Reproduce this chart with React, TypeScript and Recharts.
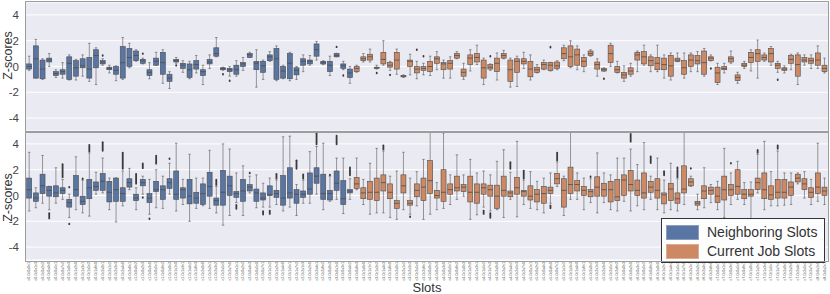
import React from 'react';
import { ComposedChart, Bar, XAxis, YAxis, CartesianGrid, Legend } from 'recharts';

type Box = [number, number, number, number, number]; // [whiskerLow, q1, median, q3, whiskerHigh]
type Outlier = [number, number, number]; // [slotIndex, low, high]

const BLUE = '#5875A4';
const ORANGE = '#CC8963';
const EDGE = '#4c4c4c';
const BG = '#EAEAF2';
const FONT = '"Liberation Sans", Arial, sans-serif';

const yTicks = [-4, -2, 0, 2, 4];
const legendItems = [
  { label: 'Neighboring Slots', color: BLUE },
  { label: 'Current Job Slots', color: ORANGE },
];

const slotLabels = [
  'c0-0c0s0n1','c0-0c0s1n3','c0-0c0s2n2','c0-0c0s4n0','c0-0c0s5n1','c0-0c0s7n2','c0-0c1s0n3','c0-0c1s2n0','c0-0c1s3n1','c0-0c1s5n2',
  'c0-0c1s6n0','c0-0c2s0n1','c0-0c2s1n2','c0-0c2s3n3','c0-0c2s4n0','c0-0c2s6n1','c1-0c0s0n2','c1-0c0s2n3','c1-0c0s3n0','c1-0c0s5n1',
  'c1-0c0s6n2','c1-0c1s0n3','c1-0c1s1n0','c1-0c1s3n1','c1-0c1s4n2','c1-0c1s6n3','c1-0c2s0n0','c1-0c2s2n1','c1-0c2s3n2','c1-0c2s5n3',
  'c1-0c2s7n0','c2-0c0s1n1','c2-0c0s2n2','c2-0c0s4n3','c2-0c0s5n0','c2-0c0s7n1','c2-0c1s1n2','c2-0c1s2n3','c2-0c1s4n0','c2-0c1s5n1',
  'c2-0c1s7n2','c2-0c2s1n3','c2-0c2s2n0','c2-0c2s4n1','c2-0c2s6n2','c3-0c0s0n3','c3-0c0s1n0','c3-0c0s3n1','c3-0c0s4n2','c3-0c0s6n3',
  'c3-0c1s0n0','c3-0c1s1n1','c3-0c1s3n2','c3-0c1s4n3','c3-0c1s6n0','c3-0c2s0n1','c3-0c2s1n2','c3-0c2s3n3','c3-0c2s5n0','c3-0c2s6n1',
  'c4-0c0s0n2','c4-0c0s2n3','c4-0c0s3n0','c4-0c0s5n1','c4-0c0s6n2','c4-0c1s0n3','c4-0c1s2n0','c4-0c1s3n1','c4-0c1s5n2','c4-0c1s7n3',
  'c4-0c2s0n0','c4-0c2s2n1','c4-0c2s4n2','c4-0c2s5n3','c4-0c2s7n0','c5-0c0s1n1','c5-0c0s2n2','c5-0c0s4n3','c5-0c0s6n0','c5-0c0s7n1',
  'c5-0c1s1n2','c5-0c1s3n3','c5-0c1s4n0','c5-0c1s6n1','c5-0c2s0n2','c5-0c2s1n3','c5-0c2s3n0','c5-0c2s5n1','c5-0c2s6n2','c6-0c0s0n3',
  'c6-0c0s2n0','c6-0c0s3n1','c6-0c0s5n2','c6-0c0s6n3','c6-0c1s0n0','c6-0c1s2n1','c6-0c1s4n2','c6-0c1s5n3','c6-0c1s7n0','c6-0c2s1n1',
  'c6-0c2s2n2','c6-0c2s4n3','c6-0c2s6n0','c7-0c0s0n1','c7-0c0s1n2','c7-0c0s3n3','c7-0c0s5n0','c7-0c0s6n1','c7-0c1s0n2','c7-0c1s2n3',
  'c7-0c1s3n0','c7-0c1s5n1','c7-0c1s7n2','c7-0c2s0n3','c7-0c2s2n0','c7-0c2s4n1','c7-0c2s5n2','c7-0c2s7n3','c8-0c0s1n0','c8-0c0s2n1',
];

// ---------- Top panel ----------
const topNeighbor: Box[] = [
  [-0.3,-0.2,0,0.2,0.8],[-0.9,-0.9,0.6,1.6,2.1],[-1.0,-0.95,-0.2,0.5,0.6],[0,0.35,0.5,0.65,1.0],
  [-0.85,-0.7,-0.55,-0.4,-0.25],[-0.9,-0.6,-0.4,-0.25,0.3],[-1.05,-1.0,0.25,0.75,0.9],[-1.05,-0.75,-0.1,0.45,0.55],
  [-0.75,-0.1,0.05,0.6,0.9],[-1.15,-0.9,-0.2,0.7,1.8],[-1.4,-0.1,0.85,1.3,1.45],[0.1,0.2,0.35,0.45,0.6],
  [-0.5,-0.25,-0.15,-0.05,0.1],[-1.1,-0.6,-0.3,0,0.05],[-1.0,-0.9,0.3,1.55,2.25],[-0.1,0,0.7,1.4,1.8],
  [0.4,0.45,0.85,1.2,1.3],[0.2,0.25,0.45,0.55,0.65],[-0.95,-0.7,-0.45,-0.25,0.3],[0.1,0.1,0.4,0.65,1.1],
  [-1.3,-0.6,0.3,1.1,1.3],[-1.7,-1.15,-0.9,-0.6,-0.4],[0.25,0.35,0.45,0.55,0.7],[-0.45,-0.15,0.1,0.25,0.45],
  [-0.95,-0.85,-0.25,0.2,0.4],[-0.5,-0.2,0.15,0.45,0.85],[-1.4,-0.7,-0.4,-0.25,0.1],[-0.15,0.2,0.35,0.55,0.9],
  [0.75,0.8,1.0,1.45,2.25],[-0.3,-0.25,-0.15,-0.1,-0.05],[-0.75,-0.4,-0.25,-0.15,0],[-0.75,-0.6,-0.25,0.1,0.45],
  [-0.3,0,0.2,0.3,0.7],[0.7,0.7,0.9,1.0,1.1],[-1.6,-0.25,0.25,0.4,1.3],[-1.0,-0.45,0.05,0.4,0.5],
  [0.4,0.45,0.75,0.9,1.15],[-1.1,-1.0,0.6,1.4,1.6],[-0.95,-0.9,-0.35,0,0.1],[-1.1,-0.95,0.25,1.0,1.1],
  [-1.0,-0.65,-0.3,-0.1,0],[-0.4,0.1,0.4,0.6,0.9],[0.1,0.2,0.4,0.5,0.85],[0.5,0.8,1.3,1.75,1.95],
  [0.15,0.2,0.3,0.4,0.45],[-0.7,-0.4,0.1,0.4,0.8],[0.75,0.75,0.85,1.0,1.02],[-0.25,-0.15,0.05,0.2,0.4],
  [-1.3,-0.85,-0.5,-0.2,0],
];
const topCurrent: Box[] = [
  [-0.45,-0.4,-0.15,0,0.1],[0.35,0.45,0.6,0.75,1.0],[0.35,0.5,0.75,0.95,1.35],[-0.2,-0.15,-0.1,-0.05,0.1],
  [0.1,0.2,0.55,1.1,2.0],[-0.3,-0.05,0.1,0.3,0.4],[-0.6,-0.2,0.5,1.1,1.35],[-0.85,-0.8,-0.75,-0.7,-0.65],
  [-0.65,0,0.4,0.5,0.95],[-0.95,-0.5,-0.2,0,0.4],[-0.65,-0.3,-0.15,0,0.25],[-0.7,-0.4,0,0.4,0.8],
  [-0.25,0.25,0.6,0.75,1.15],[-0.9,-0.25,0.2,0.3,0.5],[-0.9,-0.2,0.25,0.45,0.75],[0.6,0.65,0.85,1.0,1.15],
  [-1.0,-0.75,-0.45,-0.2,0.25],[-0.35,0.15,0.65,0.9,1.3],[0.15,0.35,0.7,1.0,1.65],[-1.4,-0.9,-0.1,0.5,0.65],
  [-0.3,-0.2,-0.05,0.15,0.2],[-1.05,-0.4,0.25,0.65,1.05],[0.6,0.65,0.85,1.0,1.25],[-1.6,-1.15,-0.25,0.5,0.65],
  [-1.55,-0.45,0.4,0.6,0.8],[-0.15,0.2,0.4,0.6,1.1],[-1.05,-0.8,-0.2,0.4,0.9],[-0.5,-0.45,-0.25,-0.05,0.15],
  [-0.25,-0.2,0.15,0.3,0.5],[-0.35,-0.3,0.1,0.3,0.32],[-0.25,-0.15,0.05,0.35,0.45],[0.45,0.6,1.0,1.45,1.65],
  [-0.1,0,0.75,1.6,2.0],[-0.25,0.1,0.9,1.35,1.6],[-0.4,0,0.4,0.7,0.9],[0.8,0.85,1.0,1.2,1.3],
  [-0.75,-0.2,0.15,0.35,0.6],[-0.37,-0.35,-0.25,-0.15,-0.1],[0,0.3,1.0,1.65,1.8],[-0.5,-0.45,-0.25,0,0.4],
  [-1.15,-0.9,-0.65,-0.45,0.05],[-0.75,-0.6,-0.35,-0.1,0.25],[-0.4,0.5,0.9,1.1,1.2],[0.1,0.2,0.75,1.15,1.65],
  [-0.4,0.05,0.45,0.75,0.9],[-0.4,-0.25,0.25,0.7,1.65],[-0.9,-0.25,0.15,0.65,0.9],[-1.05,-0.75,0.05,0.85,1.05],
  [0.38,0.4,0.5,0.65,1.05],[-0.9,-0.6,-0.1,0.45,1.05],[-0.4,0,0.5,0.9,1.05],[-0.4,0.2,0.45,0.85,1.15],
  [-0.75,-0.6,0.3,1.2,1.4],[0.43,0.45,0.65,0.75,0.9],[-1.4,-1.25,-0.5,-0.05,0.25],[-0.5,-0.25,-0.15,0,0.25],
  [0.25,0.35,0.6,0.75,1.2],[-1.3,-1.1,-0.85,-0.65,-0.45],[-0.15,0,0.1,0.25,0.4],[-0.35,0.3,0.7,1.1,1.3],
  [-0.9,0.4,1.0,1.3,2.05],[0.4,0.5,0.7,0.9,1.05],[0.1,0.35,1.0,1.4,1.55],[-0.45,-0.15,0.1,0.25,0.4],
  [-0.5,-0.3,-0.2,-0.1,0.05],[-0.25,0.25,0.55,0.85,0.95],[-1.4,-0.75,0.15,0.9,1.05],[0.1,0.35,0.5,0.7,0.9],
  [-0.15,0.25,0.45,0.65,0.9],[-0.15,0.1,0.5,1.05,1.6],[-0.5,-0.4,-0.15,0.1,0.65],
];
const topOutliers: Outlier[] = [
  [11,0.8,0.9],[17,0.95,1.05],[22,0.05,0.12],[29,-0.65,-0.55],[30,-1.15,-1.05],[46,1.45,1.6],[47,-0.75,-0.65],
  [52,-0.55,-0.45],[54,-0.7,-0.6],[58,1.2,1.4],[59,0.75,0.85],[69,0.75,0.85],[78,1.4,1.6],[86,-1.0,-0.9],
  [102,-0.2,-0.12],[112,-1.1,-0.95],
];

// ---------- Bottom panel ----------
const botNeighbor: Box[] = [
  [-1.2,-0.2,0.45,1.35,3.35],[-0.95,-0.45,-0.2,0.2,0.6],[-0.6,0.15,0.75,1.65,3.1],[-1.1,-0.05,0.4,0.7,0.72],
  [-0.6,-0.1,0.2,0.75,2.15],[-0.3,0.15,0.4,0.6,1.25],[-1.7,-0.9,-0.55,-0.3,0.1],[-1.1,-0.05,0.45,1.55,3.0],
  [-1.35,-0.7,-0.45,-0.05,1.2],[-1.6,-0.25,0.6,1.25,3.3],[0.1,0.4,0.7,1.05,1.8],[0.2,0.4,1.1,1.7,2.9],
  [-1.1,-0.5,0.25,1.1,1.35],[-2.05,-0.45,0.45,1.35,1.37],[-0.8,-0.45,0.15,0.6,1.9],[0.45,0.65,1.0,1.3,2.1],
  [-1.1,-0.4,-0.2,0.1,0.6],[0.1,0.75,1.0,1.25,1.5],[-1.45,-0.55,-0.2,0.15,1.25],[-0.95,0.3,0.45,1.1,2.0],
  [-1.0,-0.3,0.45,0.75,1.5],[0.1,0.55,1.0,1.3,2.5],[-1.2,-0.3,0.1,1.9,4.05],[-0.7,-0.2,0.45,0.6,1.25],
  [-2.0,-0.65,-0.05,1.25,3.2],[-1.0,-0.6,-0.2,0.25,1.35],[-0.8,-0.7,0.15,0.9,1.35],[-1.0,-0.05,0.7,1.8,3.5],
  [-1.35,-0.75,-0.4,-0.2,0.7],[-2.3,-0.75,0.25,1.95,4.0],[-1.55,0,0.75,1.5,3.6],[-0.55,-0.15,0.15,0.3,1.75],
  [-1.55,-0.45,0.35,1.25,2.3],[0.2,0.35,0.65,0.85,1.5],[-0.95,-0.45,0.2,0.5,1.6],[-0.9,-0.35,-0.2,0.2,0.95],
  [-0.9,0,0.05,0.75,1.35],[-0.7,-0.15,0.15,0.4,1.2],[-1.2,-0.75,-0.2,1.55,4.55],[-0.9,-0.2,0.2,2.15,4.6],
  [-1.55,-0.6,0.1,0.45,0.85],[-0.6,-0.15,0.1,0.35,1.2],[-0.6,0.1,0.5,1.75,3.4],[0.1,0.95,1.5,2.15,3.8],
  [-1.1,-0.3,0.15,1.65,4.05],[-0.45,-0.35,0.15,0.4,1.5],[-0.3,0.4,0.95,1.9,2.9],[-1.4,-0.7,-0.25,1.15,2.9],
  [-0.3,0.2,0.35,0.45,1.3],
];
const botCurrent: Box[] = [
  [0.45,0.55,0.9,1.4,2.9],[-0.7,-0.25,0.2,0.6,1.25],[-1.45,-0.3,0.25,1.1,2.5],[-1.35,-0.4,0.25,1.35,3.65],
  [-1.35,0.35,1.0,1.6,3.45],[-1.7,-0.25,0.25,0.9,1.5],[-1.85,-1.0,-0.6,-0.4,1.9],[-1.1,0.2,0.75,1.6,3.35],
  [-1.45,-0.75,-0.6,-0.4,1.35],[-0.8,-0.1,0.4,0.9,1.85],[-1.85,-0.4,0.65,1.35,2.8],[-1.45,0.15,1.15,2.7,5.5],
  [-1.1,-0.2,0,0.4,1.0],[-1.0,-0.45,0.25,2.0,4.85],[-0.7,0.1,0.45,0.9,1.6],[-0.3,0.35,0.6,1.5,3.15],
  [-0.05,0.3,0.65,0.85,1.6],[-1.85,-0.5,0.25,1.5,2.8],[-1.5,-0.6,0.25,0.9,1.75],[-0.9,0.1,0.6,0.9,1.9],
  [-1.2,-0.05,0.45,0.8,1.6],[-1.1,-1.0,-0.05,0.8,2.65],[-1.7,-0.05,0.4,1.5,3.55],[-0.3,-0.1,0.2,0.35,1.8],
  [-1.65,0.1,0.6,1.4,4.2],[-0.7,-0.05,0.3,0.4,1.2],[-1.0,-0.35,-0.05,0.75,1.85],[-1.1,-0.5,0.1,0.45,1.1],
  [-1.35,-0.6,0.15,0.7,1.35],[-0.6,0.15,0.4,0.65,1.75],[0.7,0.9,1.3,1.7,2.6],[-1.55,-0.9,0.4,1.3,1.5],
  [-0.3,0.15,0.85,2.2,5.5],[-0.3,0.35,0.85,1.15,1.75],[-1.1,0,0.4,0.7,1.35],[-0.55,-0.1,0.3,0.45,1.3],
  [-1.35,-0.05,0.65,1.45,3.3],[-0.55,-0.05,0.45,0.95,1.75],[-1.1,-0.5,0.45,1.1,1.6],[-1.2,-0.4,-0.1,1.25,2.9],
  [-0.45,0,1.2,1.6,2.9],[-1.2,0.35,0.85,1.95,3.6],[-0.8,0,0.4,1.2,2.4],[-1.1,-0.2,0.2,1.75,4.1],
  [-0.3,0.25,0.65,1.1,1.5],[-1.1,-0.2,0.4,1.3,2.9],[-1.35,-0.65,0.05,0.2,1.2],[-1.1,-0.4,0.5,0.95,2.5],
  [-1.2,-0.6,-0.25,0.2,1.3],[-0.7,0.2,0.5,2.3,5.5],[0.7,0.75,1.05,1.3,1.5],[-1.1,-0.75,-0.6,-0.45,0.1],
  [-0.95,-0.25,0.35,0.75,2.15],[-0.55,0.1,0.4,0.65,0.85],[-1.1,-0.55,-0.05,0.65,1.1],[-1.7,-0.35,0.45,1.5,3.65],
  [-0.7,0,0.45,0.85,1.75],[-0.3,0.1,0.7,2.0,2.65],[-0.7,-0.25,0.1,0.45,1.0],[-1.85,-0.05,0.1,0.45,1.05],
  [0.2,0.45,1.0,1.35,3.2],[-1.1,-0.25,0.45,1.75,4.2],[-0.8,-0.3,0.05,0.75,1.85],[-0.8,-0.2,0.25,1.25,3.45],
  [-0.75,-0.2,0.25,1.25,1.75],[-0.7,0,0.65,1.05,1.75],[0.9,1.05,1.35,1.65,1.75],[-0.2,0.45,0.9,1.3,1.85],
  [-0.7,-0.15,0.25,0.6,1.25],[-0.45,0.15,0.65,1.75,4.05],[-0.7,0,0.35,0.65,1.35],
];
const botOutliers: Outlier[] = [
  [3,-1.85,-1.3],[5,1.35,2.5],[6,0.6,0.7],[6,-2.25,-2.15],[8,1.25,1.35],[9,3.35,4.0],[11,3.4,4.2],[14,2.0,3.4],
  [16,0.85,1.75],[17,2.05,2.55],[17,-0.2,-0.1],[18,-1.85,-1.75],[19,2.4,3.15],[21,2.8,2.9],[28,0.75,1.3],
  [31,-1.1,-0.65],[33,1.7,1.8],[35,-1.55,-1.15],[36,-1.5,-1.1],[37,1.25,1.75],[40,2.0,2.8],[41,1.25,1.7],
  [43,3.9,4.9],[45,1.55,1.65],[46,3.9,4.7],[48,1.5,2.25],
  [53,3.5,3.95],[57,-1.7,-1.6],[68,-1.5,-1.1],[69,-1.8,-1.3],[72,2.0,2.65],[74,1.25,2.0],[78,-1.05,-0.7],
  [79,2.65,3.4],[84,1.4,1.5],[90,4.1,4.85],[93,2.45,3.1],[95,1.5,1.95],[97,1.35,2.25],[99,2.05,2.15],
  [105,2.45,2.55],[109,3.25,3.6],[112,3.55,3.95],
];

function buildRows(neigh: Box[], curr: Box[], outs: Outlier[]) {
  const all = [
    ...neigh.map((b) => ({ b, group: 'n' })),
    ...curr.map((b) => ({ b, group: 'c' })),
  ];
  return all.map((e, i) => {
    const o = outs.filter((r) => r[0] === i);
    return {
      name: slotLabels[i],
      group: e.group,
      whisk: [e.b[0], e.b[4]],
      box: [e.b[1], e.b[3]],
      med: e.b[2],
      outA: o[0] ? [o[0][1], o[0][2]] : null,
      outB: o[1] ? [o[1][1], o[1][2]] : null,
    };
  });
}

const topRows = buildRows(topNeighbor, topCurrent, topOutliers);
const botRows = buildRows(botNeighbor, botCurrent, botOutliers);

const ok = (...v: any[]) => v.every((n) => typeof n === 'number' && Number.isFinite(n));

const WhiskerShape = (p: any) => {
  const { x, y, width, height } = p;
  if (!ok(x, y, width, height)) return <g />;
  const cx = x + width / 2;
  const cap = width * 0.25;
  return (
    <g>
      <line x1={cx} x2={cx} y1={y} y2={y + height} stroke={EDGE} strokeWidth={0.55} />
      <line x1={cx - cap} x2={cx + cap} y1={y} y2={y} stroke={EDGE} strokeWidth={0.55} />
      <line x1={cx - cap} x2={cx + cap} y1={y + height} y2={y + height} stroke={EDGE} strokeWidth={0.55} />
    </g>
  );
};

const BoxShape = (p: any) => {
  const { x, y, width, height, payload } = p;
  if (!ok(x, y, width, height) || !payload) return <g />;
  const [q1, q3] = payload.box;
  const span = q3 - q1;
  const my = span > 0 ? y + (height * (q3 - payload.med)) / span : y;
  const fill = payload.group === 'n' ? BLUE : ORANGE;
  return (
    <g>
      <rect x={x} y={y} width={width} height={Math.max(height, 0.8)} fill={fill} stroke={EDGE} strokeWidth={0.6} />
      <line x1={x} x2={x + width} y1={my} y2={my} stroke={EDGE} strokeWidth={0.8} />
    </g>
  );
};

const OutlierShape = (p: any) => {
  const { x, y, width, height } = p;
  if (!ok(x, y, width, height)) return <g />;
  const h = Math.max(Math.abs(height), 2.4);
  const cy = y + height / 2;
  return <rect x={x + width / 2 - 0.9} y={cy - h / 2} width={1.8} height={h} rx={0.9} fill="#3a3a3a" />;
};

const SlotTick = (p: any) => {
  const { x, y, payload } = p;
  return (
    <text
      x={0}
      y={0}
      transform={`translate(${x},${y}) rotate(-90)`}
      textAnchor="end"
      dominantBaseline="central"
      fontSize={3.6}
      fill="#444"
      fontFamily={FONT}
    >
      {payload.value}
    </text>
  );
};

const ZLabel = (p: any) => {
  const vb = p.viewBox || {};
  const cx = 8;
  const cy = (vb.y ?? 0) + (vb.height ?? 0) / 2 + (p.shift || 0);
  return (
    <text
      x={cx}
      y={cy}
      transform={`rotate(-90 ${cx} ${cy})`}
      textAnchor="middle"
      dominantBaseline="central"
      fontSize={12.5}
      fill="#333"
      fontFamily={FONT}
    >
      Z-scores
    </text>
  );
};

const LegendBox = () => (
  <div
    style={{
      boxSizing: 'border-box',
      width: 164,
      height: 45,
      border: '1.3px solid #333',
      background: 'rgba(255,255,255,0.88)',
      fontFamily: FONT,
      position: 'relative',
    }}
  >
    {legendItems.map((it, i) => (
      <div
        key={it.label}
        style={{ position: 'absolute', left: 4, top: 5 + i * 19, display: 'flex', alignItems: 'center', height: 16 }}
      >
        <div style={{ width: 33, height: 15, background: it.color, boxSizing: 'border-box', border: '1px solid rgba(255,255,255,0.3)' }} />
        <span style={{ marginLeft: 8, fontSize: 14, color: '#333', lineHeight: '16px', whiteSpace: 'nowrap' }}>{it.label}</span>
      </div>
    ))}
  </div>
);

function Panel({ rows, height, showX, labelShift }: { rows: any[]; height: number; showX: boolean; labelShift: number }) {
  return (
    <ComposedChart
      width={830}
      height={height}
      data={rows}
      margin={{ top: showX ? 0 : 2, right: 2, bottom: 0, left: 0 }}
    >
      <CartesianGrid xAxisId="a" vertical={false} stroke="#ffffff" strokeWidth={1} fill={BG} />
      <XAxis
        xAxisId="a"
        dataKey="name"
        hide={!showX}
        interval={0}
        tickLine={false}
        axisLine={false}
        height={showX ? 34 : 0}
        tickSize={0}
        tickMargin={2}
        tick={<SlotTick />}
        label={{ value: 'Slots', position: 'insideBottom', offset: 2, style: { fontSize: 13, fill: '#333', fontFamily: FONT } }}
      />
      <XAxis xAxisId="b" dataKey="name" hide height={0} />
      <XAxis xAxisId="c" dataKey="name" hide height={0} />
      <XAxis xAxisId="d" dataKey="name" hide height={0} />
      <YAxis
        domain={[-5, 5]}
        allowDataOverflow
        ticks={yTicks}
        width={26}
        tickLine={false}
        axisLine={false}
        tickSize={5}
        tickMargin={2}
        tick={{ fontSize: 11.5, fill: '#444', fontFamily: FONT }}
        label={<ZLabel shift={labelShift} />}
      />
      <Bar xAxisId="a" dataKey="whisk" shape={<WhiskerShape />} isAnimationActive={false} />
      <Bar xAxisId="b" dataKey="box" shape={<BoxShape />} isAnimationActive={false} />
      <Bar xAxisId="c" dataKey="outA" shape={<OutlierShape />} isAnimationActive={false} />
      <Bar xAxisId="d" dataKey="outB" shape={<OutlierShape />} isAnimationActive={false} />
      {showX && (
        <Legend
          layout="vertical"
          align="center"
          verticalAlign="middle"
          wrapperStyle={{ left: 661, top: 87, width: 164, height: 45, margin: 0 }}
          content={<LegendBox />}
        />
      )}
    </ComposedChart>
  );
}

export default function App() {
  return (
    <div style={{ position: 'absolute', left: 0, top: 0, width: 830, height: 294, background: '#fff', overflow: 'hidden' }}>
      <div style={{ position: 'absolute', left: 0, top: 0 }}>
        <Panel rows={topRows} height={131} showX={false} labelShift={-11} />
      </div>
      <div style={{ position: 'absolute', left: 0, top: 131 }}>
        <Panel rows={botRows} height={163} showX={true} labelShift={2} />
      </div>
      <div style={{ position: 'absolute', left: 25, top: 1, width: 804, height: 131.5, boxSizing: 'border-box', border: '1.5px solid #9d9d9d', pointerEvents: 'none' }} />
      <div style={{ position: 'absolute', left: 25, top: 131, width: 804, height: 130.5, boxSizing: 'border-box', border: '1.5px solid #9d9d9d', pointerEvents: 'none' }} />
    </div>
  );
}
